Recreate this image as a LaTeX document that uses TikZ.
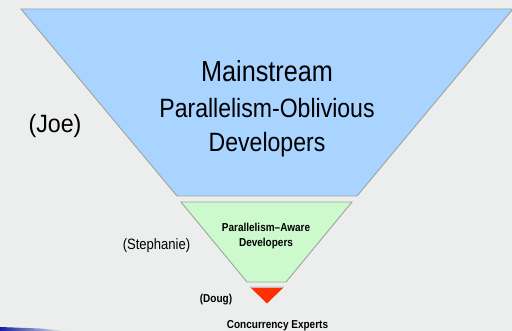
\documentclass[tikz,border=0pt]{standalone}
\usepackage{fontspec}
\setmainfont{Liberation Sans}
\newfontfamily\cond[FakeStretch=0.87]{Liberation Sans}
\newfontfamily\condwide[FakeStretch=0.93]{Liberation Sans}
\definecolor{bgcol}{HTML}{ECEEED}
\definecolor{edgecol}{HTML}{A0A2A2}
\definecolor{bluefill}{HTML}{A8D4FF}
\definecolor{greenfill}{HTML}{CCFACC}
\definecolor{redfill}{HTML}{FF3000}
\definecolor{slideblue}{HTML}{1020A0}
\tikzset{
  layer/.style={draw=edgecol, line width=0.9pt, line join=miter},
  bigtext/.style={font=\cond\fontsize{26.5}{30}\selectfont, anchor=base, inner sep=0pt},
  smallbold/.style={font=\cond\bfseries\fontsize{11.5}{13}\selectfont, anchor=base, inner sep=0pt},
  who/.style={anchor=base, inner sep=0pt}
}
\begin{document}
\begin{tikzpicture}[x=1pt, y=-1pt]
  % canvas
  \fill[bgcol] (0,0) rectangle (512,331);
  \useasboundingbox (0,0) rectangle (512,331);

  % top: mainstream developers
  \filldraw[layer, fill=bluefill] (21,9) -- (513,9) -- (357,196) -- (177,196) -- cycle;
  % middle: parallelism-aware developers
  \filldraw[layer, fill=greenfill] (181,202) -- (352,202) -- (286,282) -- (247,282) -- cycle;
  % tip: concurrency experts
  \fill[redfill] (250,287) -- (284,287) -- (267,303.5) -- cycle;
  \draw[edgecol!70, line width=0.5pt] (250,287) -- (284,287);

  % slide decoration in the lower-left corner
  \shade[left color=slideblue, right color=bgcol]
    (0,327) -- (40,328.5) -- (66,331) -- (0,331) -- cycle;

  % labels inside the layers
  \node[bigtext, font=\cond\fontsize{29}{32}\selectfont] (main) at (267,82) {Mainstream};
  \node[bigtext] (oblivious) at (267,118) {Parallelism-Oblivious};
  \node[bigtext] (devs) at (267,152) {Developers};
  \node[smallbold] (aware) at (266,231.5) {Parallelism–Aware};
  \node[smallbold] (awaredevs) at (266,246.5) {Developers};
  \node[smallbold] (experts) at (277.5,329) {Concurrency Experts};

  % names beside the layers
  \node[who, font=\condwide\fontsize{25}{28}\selectfont] (joe) at (55,133) {(Joe)};
  \node[who, font=\cond\fontsize{15}{17}\selectfont] (stephanie) at (156.5,250) {(Stephanie)};
  \node[smallbold] (doug) at (216,303) {(Doug)};
\end{tikzpicture}
\end{document}
